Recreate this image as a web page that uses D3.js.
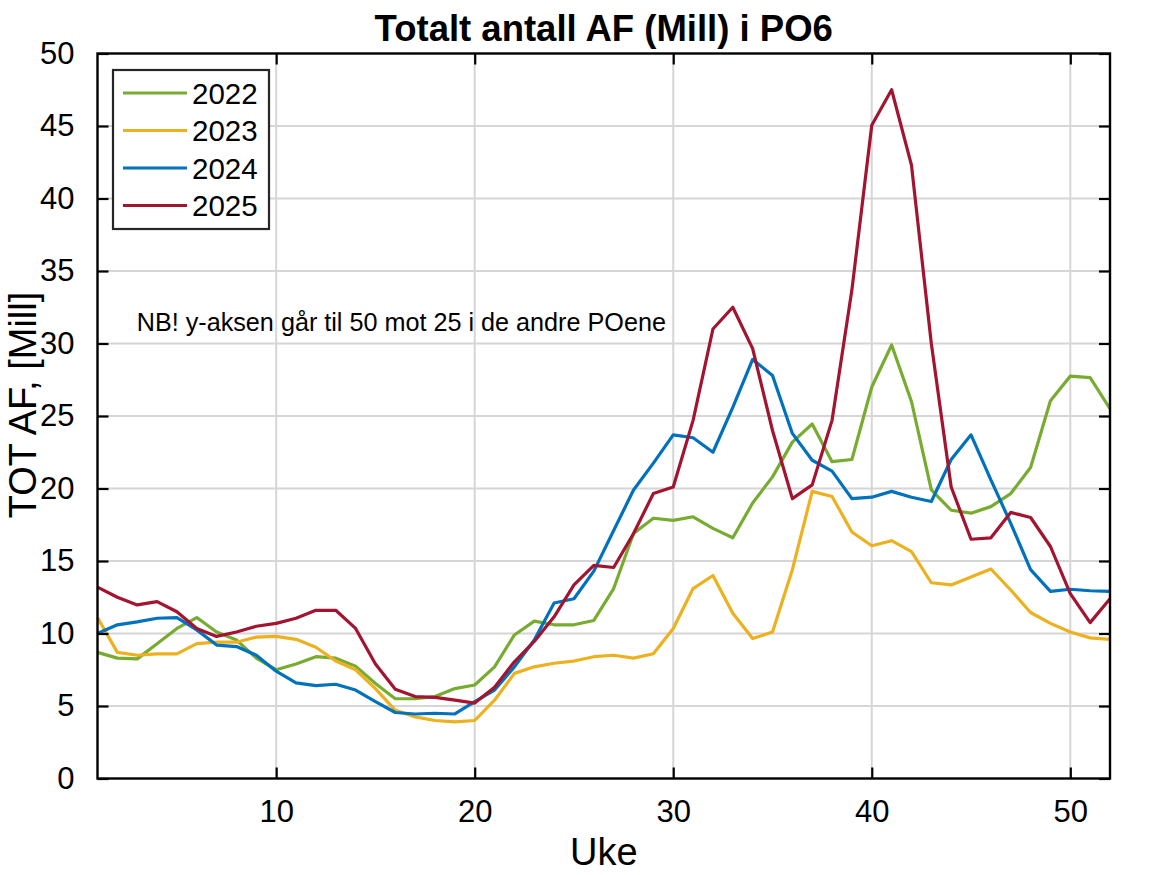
<!DOCTYPE html>
<html>
<head>
<meta charset="utf-8">
<script src="https://cdn.jsdelivr.net/npm/d3@7"></script>
<style>
  body { margin: 0; background: #fff; }
  text { font-family: "Liberation Sans", Arial, sans-serif; }
</style>
</head>
<body>
<div id="chart"></div>
<script>
// ======= DATA =======
const weeks = d3.range(1, 53);
const years = ["2022", "2023", "2024", "2025"];
const colors = ["#77AC30", "#EDB120", "#0072BD", "#A2142F"];

const af2022 = [8.7, 8.3, 8.25, 9.3, 10.35, 11.1, 10.1, 9.55, 8.3, 7.5,
  7.9, 8.4, 8.3, 7.75, 6.55, 5.5, 5.5, 5.65, 6.2, 6.45,
  7.7, 9.9, 10.85, 10.6, 10.6, 10.9, 13.1, 16.9, 17.95, 17.8,
  18.05, 17.25, 16.6, 19.0, 20.8, 23.2, 24.45, 21.85, 22.0, 27.0,
  29.9, 26.0, 19.9, 18.5, 18.3, 18.75, 19.65, 21.45, 26.05, 27.75,
  27.65, 25.5];
const af2023 = [11.1, 8.7, 8.5, 8.6, 8.6, 9.3, 9.4, 9.4, 9.75, 9.8,
  9.6, 9.05, 8.1, 7.5, 6.2, 4.7, 4.25, 4.0, 3.9, 4.0,
  5.4, 7.25, 7.7, 7.95, 8.1, 8.4, 8.5, 8.3, 8.6, 10.35,
  13.1, 14.0, 11.4, 9.65, 10.1, 14.4, 19.8, 19.45, 17.0, 16.05,
  16.4, 15.65, 13.5, 13.35, 13.9, 14.45, 13.0, 11.45, 10.7, 10.1,
  9.7, 9.6];
const af2024 = [10.0, 10.6, 10.8, 11.05, 11.1, 10.25, 9.2, 9.1, 8.5, 7.4,
  6.6, 6.4, 6.5, 6.1, 5.3, 4.55, 4.45, 4.5, 4.45, 5.3,
  6.1, 7.7, 9.55, 12.1, 12.4, 14.3, 17.1, 19.9, 21.75, 23.7,
  23.5, 22.5, 25.6, 28.9, 27.8, 23.8, 21.95, 21.2, 19.3, 19.4,
  19.8, 19.4, 19.1, 22.0, 23.7, 20.6, 17.6, 14.4, 12.9, 13.05,
  12.95, 12.9];
const af2025 = [13.2, 12.5, 11.97, 12.2, 11.5, 10.35, 9.8, 10.1, 10.5, 10.7,
  11.05, 11.6, 11.6, 10.35, 7.9, 6.15, 5.65, 5.6, 5.4, 5.2,
  6.3, 8.05, 9.45, 11.15, 13.35, 14.7, 14.55, 16.9, 19.65, 20.1,
  24.7, 31.0, 32.5, 29.65, 24.0, 19.3, 20.25, 24.7, 33.7, 45.05,
  47.5, 42.3, 30.0, 20.1, 16.5, 16.6, 18.35, 18.0, 16.0, 12.75,
  10.75, 12.4];
const series = [af2022, af2023, af2024, af2025];

const xTicks = [10, 20, 30, 40, 50];
const yTicks = [0, 5, 10, 15, 20, 25, 30, 35, 40, 45, 50];

const titleText = "Totalt antall AF (Mill) i PO6";
const xLabel = "Uke";
const yLabel = "TOT AF, [Mill]";
const noteText = "NB! y-aksen går til 50 mot 25 i de andre POene";

// ======= SVG SETUP =======
const width = 1167, height = 875;
const margin = { left: 97.5, right: 57, top: 53.5, bottom: 96.5 };
const innerW = width - margin.left - margin.right;
const innerH = height - margin.top - margin.bottom;

const svg = d3.select("#chart").append("svg")
  .attr("width", width).attr("height", height);

const g = svg.append("g")
  .attr("transform", `translate(${margin.left},${margin.top})`);

const x = d3.scaleLinear().domain([1, 52]).range([0, innerW]);
const y = d3.scaleLinear().domain([0, 50]).range([innerH, 0]);

// grid
g.append("g").selectAll("line").data(xTicks).join("line")
  .attr("x1", d => x(d)).attr("x2", d => x(d))
  .attr("y1", 0).attr("y2", innerH)
  .attr("stroke", "#d6d6d6").attr("stroke-width", 2);
g.append("g").selectAll("line").data(yTicks.slice(1, -1)).join("line")
  .attr("x1", 0).attr("x2", innerW)
  .attr("y1", d => y(d)).attr("y2", d => y(d))
  .attr("stroke", "#d6d6d6").attr("stroke-width", 2);

// series lines
const line = d3.line().x((d, i) => x(weeks[i])).y(d => y(d));
series.forEach((s, k) => {
  g.append("path").datum(s)
    .attr("fill", "none")
    .attr("stroke", colors[k])
    .attr("stroke-width", 3.2)
    .attr("stroke-linejoin", "round")
    .attr("d", line);
});

// axes (ticks inside, MATLAB style box)
const tickLen = 11;
const axFont = 31;
const xAxisB = d3.axisBottom(x).tickValues(xTicks).tickSizeInner(-tickLen).tickSizeOuter(0).tickPadding(tickLen + 10);
const xAxisT = d3.axisTop(x).tickValues(xTicks).tickSizeInner(-tickLen).tickSizeOuter(0).tickFormat("");
const yAxisL = d3.axisLeft(y).tickValues(yTicks).tickSizeInner(-tickLen).tickSizeOuter(0).tickPadding(tickLen + 12);
const yAxisR = d3.axisRight(y).tickValues(yTicks).tickSizeInner(-tickLen).tickSizeOuter(0).tickFormat("");

[
  g.append("g").attr("transform", `translate(0,${innerH})`).call(xAxisB),
  g.append("g").call(xAxisT),
  g.append("g").call(yAxisL),
  g.append("g").attr("transform", `translate(${innerW},0)`).call(yAxisR)
].forEach(a => {
  a.select(".domain").remove();
  a.selectAll("line").attr("stroke", "#000").attr("stroke-width", 2.2);
  a.selectAll("text").attr("font-size", axFont).attr("fill", "#000")
    .style("font-family", "'Liberation Sans', Arial, sans-serif");
});

g.append("rect")
  .attr("width", innerW).attr("height", innerH)
  .attr("fill", "none").attr("stroke", "#000").attr("stroke-width", 2.4);

// title and labels
svg.append("text")
  .attr("x", margin.left + innerW / 2).attr("y", 41)
  .attr("text-anchor", "middle")
  .attr("font-size", 36.5).attr("font-weight", "bold")
  .text(titleText);

svg.append("text")
  .attr("x", margin.left + innerW / 2).attr("y", 865)
  .attr("text-anchor", "middle")
  .attr("font-size", 38)
  .text(xLabel);

svg.append("text")
  .attr("transform", `translate(36,405) rotate(-90)`)
  .attr("text-anchor", "middle")
  .attr("font-size", 38)
  .text(yLabel);

// note
g.append("text")
  .attr("x", x(3) - 0.5).attr("y", y(31.5) + 9)
  .attr("font-size", 25.2)
  .text(noteText);

// legend
const legend = svg.append("g").attr("transform", "translate(113,70)");
legend.append("rect")
  .attr("width", 156).attr("height", 159)
  .attr("fill", "#fff").attr("stroke", "#262626").attr("stroke-width", 2.2);
years.forEach((yr, k) => {
  const row = legend.append("g").attr("transform", `translate(0,${23 + k * 37.5})`);
  row.append("line").attr("x1", 10).attr("x2", 74)
    .attr("stroke", colors[k]).attr("stroke-width", 3.2);
  row.append("text").attr("x", 79).attr("y", 10.5)
    .attr("font-size", 29.5).text(yr);
});
</script>
</body>
</html>
